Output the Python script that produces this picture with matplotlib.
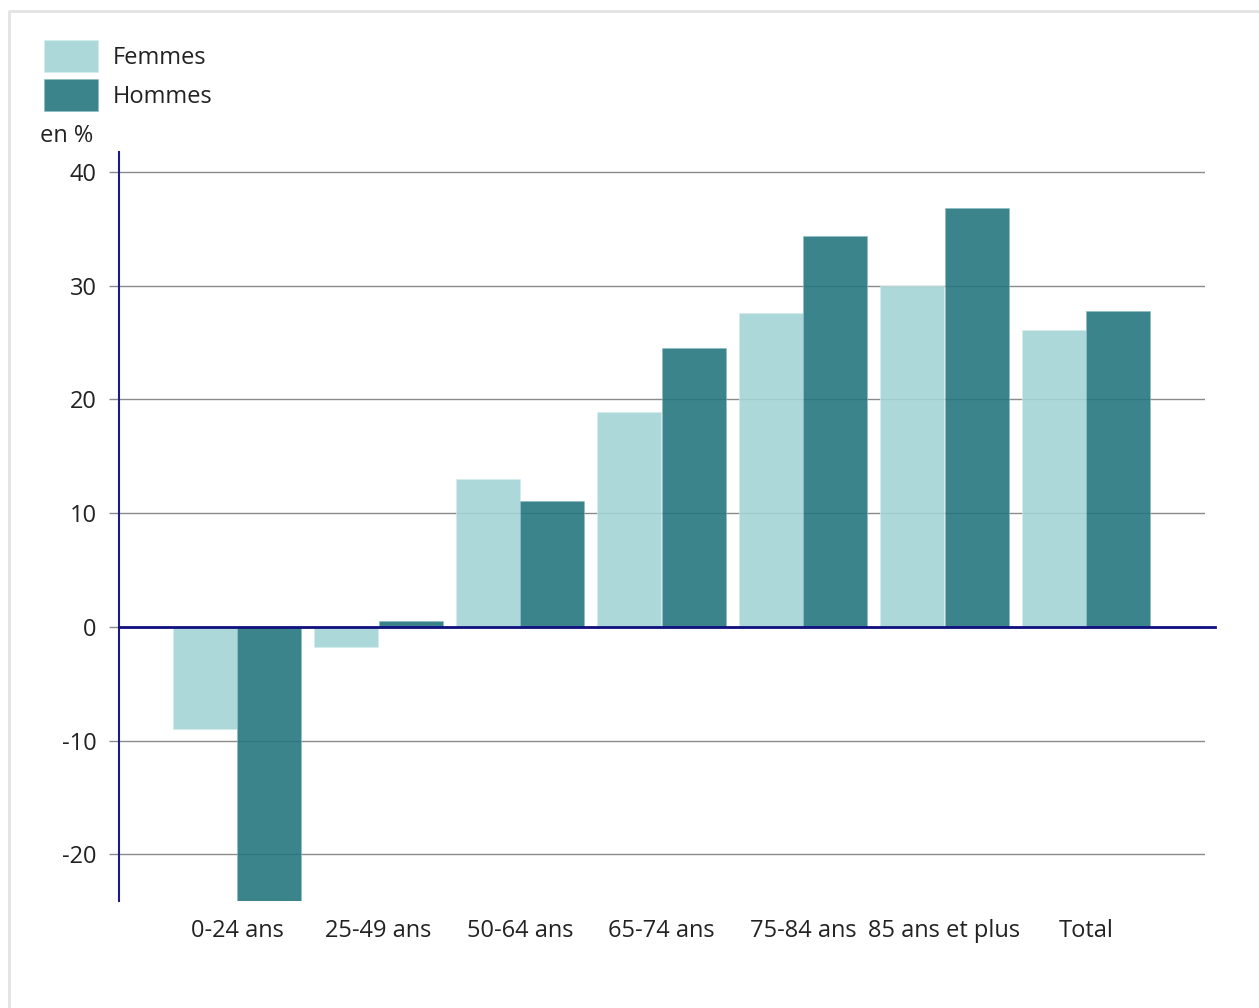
import numpy as np
import matplotlib
matplotlib.use("Agg")
import matplotlib.pyplot as plt
from matplotlib.lines import Line2D

plt.rcParams['font.family'] = ['Open Sans', 'DejaVu Sans']

categories = ["0-24 ans", "25-49 ans", "50-64 ans", "65-74 ans", "75-84 ans", "85 ans et plus", "Total"]
femmes = [-9.0, -1.8, 13.0, 18.9, 27.6, 30.0, 26.1]
hommes = [-24.1, 0.5, 11.1, 24.5, 34.4, 36.8, 27.8]
yticks = [-20, -10, 0, 10, 20, 30, 40]

W, H = 1259, 1008
fig = plt.figure(figsize=(W / 100, H / 100), dpi=100)

# cadre gris clair (haut et gauche seulement)
fig.lines.append(Line2D([9 / W, 9 / W, 1.0], [0.0, 1 - 11 / H, 1 - 11 / H], transform=fig.transFigure,
                        color="#e3e3e3", linewidth=2))

ax = fig.add_axes([119 / W, 1 - 901 / H, (1205 - 119) / W, (901 - 152) / H])

x = np.arange(len(categories))
bw = 0.45
ax.bar(x - bw / 2 - 0.003, femmes, width=bw, color="#a3d4d5", alpha=0.9, zorder=3,
       edgecolor="#d4ecec", linewidth=0.5, label="Femmes")
ax.bar(x + bw / 2 + 0.003, hommes, width=bw, color="#26777f", alpha=0.9, zorder=3,
       edgecolor="#8dbdc2", linewidth=0.5, label="Hommes")

ax.set_xlim(-0.834, 6.841)
ax.set_ylim(-24.1, 41.76)
ax.set_yticks(yticks)
ax.set_yticklabels([str(t) for t in yticks])
ax.set_xticks(x)
ax.set_xticklabels(categories)
ax.grid(axis="y", color="#8a8a8a", linewidth=1, zorder=1)
ax.tick_params(axis="y", length=7.2, width=1, color="#8a8a8a", labelsize=17, pad=9, labelcolor="#222222")
ax.tick_params(axis="x", length=0, labelsize=17, pad=13, labelcolor="#222222")

for s in ["top", "right", "bottom"]:
    ax.spines[s].set_visible(False)
ax.spines["left"].set_color("#1a1a8c")
ax.spines["left"].set_linewidth(1.5)

# ligne du zéro
ax.plot([-0.834, 6.91], [0, 0], color="#10107f", linewidth=2, zorder=4, clip_on=False)

fig.text(40 / W, 1 - 136 / H, "en %", fontsize=17, va="center", ha="left", color="#222222")

fig.legend(loc="upper left", bbox_to_anchor=(44 / W, 1 - 40 / H), frameon=False, fontsize=17,
           borderaxespad=0, borderpad=0,
           handlelength=2.29, handleheight=1.72, handletextpad=0.64, labelspacing=0.28,
           labelcolor="#222222")

fig.savefig("out.png", dpi=100)
